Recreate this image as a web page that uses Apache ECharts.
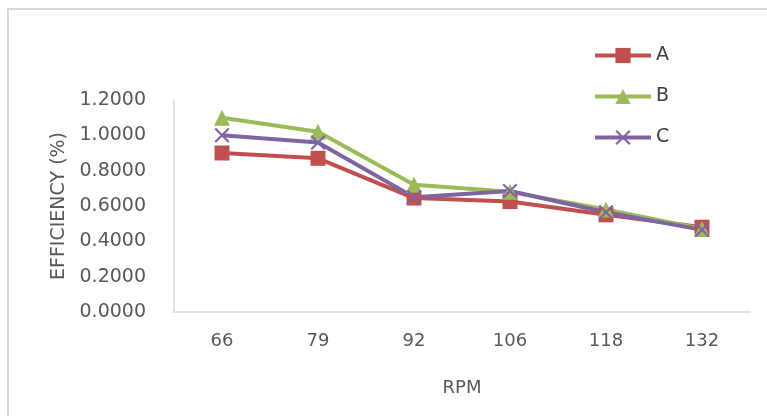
<!DOCTYPE html>
<html>
<head>
<meta charset="utf-8">
<script src="https://cdn.jsdelivr.net/npm/echarts@6/dist/echarts.min.js"></script>
<style>html,body{margin:0;padding:0;background:#fff}#c{width:767px;height:416px}</style>
</head>
<body>
<div id="c"></div>
<script>
const categories = ['66', '79', '92', '106', '118', '132'];
const seriesA = [0.90, 0.87, 0.645, 0.625, 0.55, 0.48];
const seriesB = [1.10, 1.02, 0.72, 0.68, 0.58, 0.47];
const seriesC = [1.00, 0.96, 0.65, 0.685, 0.565, 0.465];
const seriesNames = ['A', 'B', 'C'];
const yTicks = { min: 0, max: 1.2, interval: 0.2 };

const xPath = 'path://M0,1L1,0L5,4L9,0L10,1L6,5L10,9L9,10L5,6L1,10L0,9L4,5Z';
const font = '"DejaVu Sans", sans-serif';
const chart = echarts.init(document.getElementById('c'));
function mk(name, data, color, symbol, size) {
  return {
    name, type: 'line', data, symbol, symbolSize: size,
    lineStyle: { color, width: 4 },
    itemStyle: { color },
    emphasis: { disabled: true },
    animation: false
  };
}
chart.setOption({
  animation: false,
  graphic: [{
    type: 'rect', shape: { x: 8, y: 9, width: 800, height: 500 },
    style: { fill: 'none', stroke: '#D9D9D9', lineWidth: 2 }, silent: true
  }],
  legend: {
    orient: 'vertical', left: 588, top: 41, itemWidth: 56, itemHeight: 19, itemGap: 22,
    lineStyle: { width: 4 },
    textStyle: { color: '#404040', fontSize: 19, fontFamily: font },
    data: seriesNames
  },
  grid: { left: 174, right: 17, top: 100, bottom: 104 },
  xAxis: {
    type: 'category', data: categories, boundaryGap: true,
    axisLine: { lineStyle: { color: '#D9D9D9', width: 1.5 } },
    axisTick: { show: false },
    axisLabel: { color: '#595959', fontSize: 18, fontFamily: font, margin: 20 },
    name: 'RPM', nameLocation: 'middle', nameGap: 67,
    nameTextStyle: { color: '#595959', fontSize: 18, fontFamily: font }
  },
  yAxis: {
    type: 'value', min: yTicks.min, max: yTicks.max, interval: yTicks.interval,
    axisLine: { show: true, lineStyle: { color: '#D9D9D9', width: 1.5 } },
    axisTick: { show: false },
    splitLine: { show: false },
    axisLabel: { color: '#595959', fontSize: 19, fontFamily: font, margin: 28,
      formatter: v => v.toFixed(4) },
    name: 'EFFICIENCY (%)', nameLocation: 'middle', nameGap: 104,
    nameTextStyle: { color: '#595959', fontSize: 19, fontFamily: font }
  },
  series: [
    mk('A', seriesA, '#C0504D', 'rect', 15),
    mk('B', seriesB, '#9BBB59', 'triangle', 16),
    mk('C', seriesC, '#8064A2', xPath, 15)
  ]
});
</script>
</body>
</html>
